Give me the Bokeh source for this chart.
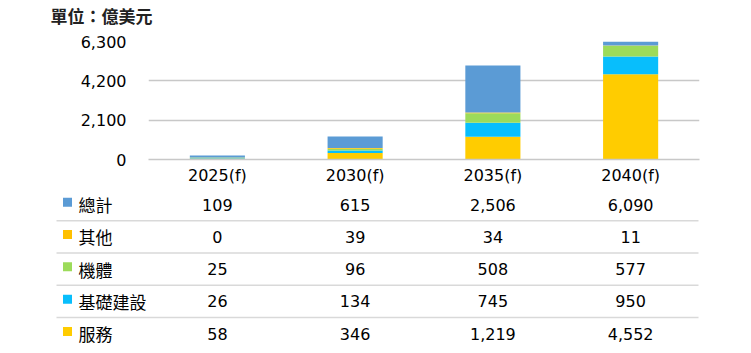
from bokeh.plotting import figure
from bokeh.models import ColumnDataSource, Range1d, NumeralTickFormatter, FixedTicker
from bokeh.layouts import column
from bokeh.embed import file_html
from bokeh.resources import INLINE
from bokeh.core.properties import value

# ---- data ----
years = ["2025(f)", "2030(f)", "2035(f)", "2040(f)"]
total = [109, 615, 2506, 6090]
other = [0, 39, 34, 11]
airframe = [25, 96, 508, 577]
infra = [26, 134, 745, 950]
service = [58, 346, 1219, 4552]
y_ticks = [0, 2100, 4200, 6300]
unit_title = "單位：億美元"

# table order (top to bottom)
table_names = ["總計", "其他", "機體", "基礎建設", "服務"]
table_values = [total, other, airframe, infra, service]
table_colors = ["#5B9BD5", "#FFC000", "#9CDB5A", "#08BEFC", "#FFCC00"]

NUM_FONT = "'DejaVu Sans', 'Noto Sans CJK TC'"
CJK_FONT = "'Noto Sans CJK TC'"
FS = "16px"

# ---- layout constants ----
W = 751
LEFT, RIGHT = 148, 52
FRAME_W, FRAME_H = 551, 118
T_H = 30            # title strip height
TOP, BOTTOM = 41 - T_H, 32
CAT_PX = FRAME_W / len(years)
P_H = TOP + FRAME_H + BOTTOM

# ---- title strip ----
t = figure(frame_width=W, frame_height=T_H,
           x_range=Range1d(0, W), y_range=Range1d(T_H, 0),
           min_border=0, x_axis_location=None, y_axis_location=None,
           toolbar_location=None, output_backend="svg")
t.grid.grid_line_color = None
t.outline_line_color = None
t.text(x=[50], y=[15], text=[unit_title], text_align="left", text_baseline="middle",
       text_font=value(CJK_FONT), text_font_size="17px", text_font_style="bold",
       text_color="#222222")

# ---- chart ----
src = ColumnDataSource(dict(year=years, service=service, infra=infra,
                            airframe=airframe, other=other, total=total))

p = figure(x_range=years, y_range=Range1d(0, y_ticks[-1]),
           frame_width=FRAME_W, frame_height=FRAME_H,
           min_border_left=LEFT, min_border_right=RIGHT,
           min_border_top=TOP, min_border_bottom=BOTTOM,
           toolbar_location=None, output_backend="svg")

stack_keys = ["service", "infra", "airframe", "other", "total"]
stack_colors = ["#FFCC00", "#08BEFC", "#9CDB5A", "#FFC000", "#5B9BD5"]
p.vbar_stack(stack_keys, x="year", width=0.4, color=stack_colors,
             line_color=None, source=src)

p.outline_line_color = None
p.xgrid.grid_line_color = None
p.ygrid.ticker = FixedTicker(ticks=y_ticks)
p.ygrid.grid_line_color = "#C8C8C8"
p.ygrid.grid_line_width = 1.5

p.yaxis.ticker = FixedTicker(ticks=y_ticks)
p.yaxis.formatter = NumeralTickFormatter(format="0,0")
p.yaxis.axis_line_color = None
p.yaxis.major_label_standoff = 22

p.xaxis.axis_line_color = "#C8C8C8"
p.xaxis.axis_line_width = 1.5
p.xaxis.major_label_standoff = 6

for ax in (p.xaxis, p.yaxis):
    ax.major_tick_line_color = None
    ax.minor_tick_line_color = None
    ax.major_tick_out = 0
    ax.major_tick_in = 0
    ax.minor_tick_out = 0
    ax.minor_tick_in = 0
    ax.major_label_text_font = NUM_FONT
    ax.major_label_text_font_size = FS
    ax.major_label_text_color = "#000000"

# ---- table ----
Q_H = 353 - T_H - P_H
ROW_PX = 32.3
ROW0 = 204 - T_H - P_H  # first row centre in table-figure pixels
q = figure(frame_width=W, frame_height=Q_H,
           x_range=Range1d(-LEFT / CAT_PX, (W - LEFT) / CAT_PX),
           y_range=Range1d((Q_H - ROW0) / ROW_PX, -ROW0 / ROW_PX),
           min_border=0, x_axis_location=None, y_axis_location=None,
           toolbar_location=None, output_backend="svg")
q.grid.grid_line_color = None
q.outline_line_color = None

vx, vy, vt = [], [], []
for r, vals in enumerate(table_values):
    for i, v in enumerate(vals):
        vx.append(i + 0.5)
        vy.append(r)
        vt.append(f"{v:,}")
q.text(x=vx, y=vy, text=vt, text_align="center", text_baseline="middle",
       text_font=value(NUM_FONT), text_font_size=FS, text_color="#000000")

rows = list(range(len(table_names)))
q.text(x=[(78 - LEFT) / CAT_PX] * len(rows), y=rows, text=table_names,
       text_align="left", text_baseline="middle",
       text_font=value(CJK_FONT), text_font_size="17px", text_color="#000000")
q.scatter(x=[(67 - LEFT) / CAT_PX] * len(rows), y=[r - 0.07 for r in rows],
          marker="square", size=9, color=table_colors, line_color=None)

seps = [r + 0.5 for r in rows[:-1]]
q.segment(x0=[(56 - LEFT) / CAT_PX] * len(seps), x1=[(698 - LEFT) / CAT_PX] * len(seps),
          y0=seps, y1=seps, line_color="#D9D9D9", line_width=1.5)

layout = column(column(t), p, column(q))
open("out.html", "w").write(file_html(layout, INLINE))
